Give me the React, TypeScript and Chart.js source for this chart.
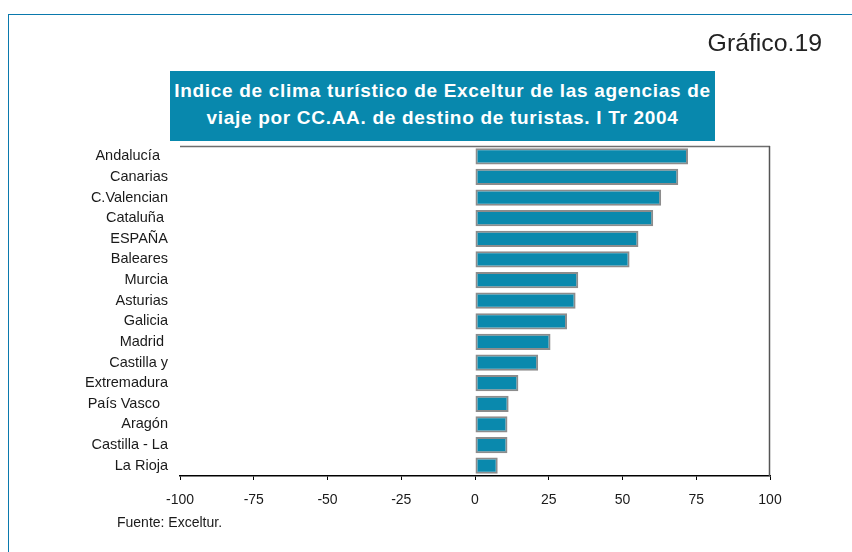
import React, { useEffect, useRef } from "react";
import { Chart, registerables } from "chart.js";

Chart.register(...registerables);

const categories = [
  "Andalucía  ",
  "Canarias",
  "C.Valencian",
  "Cataluña ",
  "ESPAÑA",
  "Baleares",
  "Murcia",
  "Asturias",
  "Galicia",
  "Madrid ",
  "Castilla y",
  "Extremadura",
  "País Vasco  ",
  "Aragón",
  "Castilla - La",
  "La Rioja",
];

const values = [72.2, 68.9, 63.1, 60.4, 55.4, 52.4, 35.0, 34.1, 31.2, 25.6, 21.4, 14.7, 11.4, 11.0, 11.0, 7.7];

const xMin = -100;
const xMax = 100;
const xStep = 25;

const titleLines = [
  "Indice de clima turístico de Exceltur de las agencias de",
  "viaje por CC.AA. de destino de turistas. I Tr 2004",
];
const chartNumber = "Gráfico.19";
const sourceText = "Fuente: Exceltur.";

const FONT = '"Liberation Sans", Arial, Helvetica, sans-serif';

const plotFrame = {
  id: "plotFrame",
  afterDraw(chart: any) {
    const { ctx, chartArea } = chart;
    ctx.save();
    ctx.lineWidth = 1.5;
    ctx.strokeStyle = "#6e6e6e";
    ctx.beginPath();
    ctx.moveTo(chartArea.left, chartArea.top + 0.5);
    ctx.lineTo(chartArea.right, chartArea.top + 0.5);
    ctx.stroke();
    ctx.strokeStyle = "#555555";
    ctx.beginPath();
    ctx.moveTo(chartArea.right - 0.5, chartArea.top);
    ctx.lineTo(chartArea.right - 0.5, chartArea.bottom);
    ctx.stroke();
    ctx.restore();
  },
};

export default function App() {
  const canvasRef = useRef<HTMLCanvasElement | null>(null);

  useEffect(() => {
    if (!canvasRef.current) return;
    const chart = new Chart(canvasRef.current, {
      type: "bar",
      data: {
        labels: categories,
        datasets: [
          {
            data: values,
            backgroundColor: "#0a89ad",
            borderColor: "#8c8c8c",
            borderWidth: 2,
            borderSkipped: false,
            barPercentage: 0.79,
            categoryPercentage: 1,
          },
        ],
      },
      options: {
        indexAxis: "y",
        animation: false,
        responsive: false,
        maintainAspectRatio: false,
        layout: { padding: { top: 146, right: 82, bottom: 0, left: 0 } },
        plugins: {
          legend: { display: false },
          title: { display: false },
          tooltip: { enabled: false },
        },
        scales: {
          x: {
            type: "linear",
            min: xMin,
            max: xMax,
            afterFit: (s: any) => {
              s.height = 76;
            },
            ticks: {
              stepSize: xStep,
              color: "#1a1a1a",
              font: { family: FONT, size: 14 },
              padding: 12,
            },
            grid: {
              drawOnChartArea: false,
              drawTicks: true,
              tickLength: 4,
              color: "#000000",
            },
            border: { display: true, color: "#000000", width: 1.5 },
          },
          y: {
            afterFit: (s: any) => {
              s.width = 180;
            },
            ticks: {
              color: "#1a1a1a",
              font: { family: FONT, size: 14.5 },
              padding: 12,
            },
            grid: { display: false, drawTicks: false },
            border: { display: false },
          },
        },
      },
      plugins: [plotFrame],
    });
    return () => chart.destroy();
  }, []);

  return (
    <div
      style={{
        position: "fixed",
        left: 0,
        top: 0,
        width: 852,
        height: 552,
        background: "#ffffff",
        overflow: "hidden",
        fontFamily: FONT,
      }}
    >
      <div
        style={{
          position: "absolute",
          left: 8,
          top: 14,
          width: 860,
          height: 560,
          borderTop: "1.5px solid #0a79ad",
          borderLeft: "1.5px solid #0a79ad",
        }}
      />
      <canvas
        ref={canvasRef}
        width={852}
        height={552}
        style={{ position: "absolute", left: 0, top: 0, width: 852, height: 552 }}
      />
      <div
        style={{
          position: "absolute",
          right: 30,
          top: 29,
          height: 28,
          lineHeight: "28px",
          fontSize: 24.8,
          color: "#222222",
          whiteSpace: "nowrap",
        }}
      >
        {chartNumber}
      </div>
      <div
        style={{
          position: "absolute",
          left: 170,
          top: 71,
          width: 545,
          height: 70,
          background: "#0888ad",
          color: "#ffffff",
          fontWeight: "bold",
          fontSize: 19,
          letterSpacing: "0.7px",
          lineHeight: "27px",
          textAlign: "center",
          paddingTop: 6,
          boxSizing: "border-box",
          whiteSpace: "nowrap",
        }}
      >
        {titleLines.map((l, i) => (
          <div key={i}>{l}</div>
        ))}
      </div>
      <div
        style={{
          position: "absolute",
          left: 117,
          top: 513,
          fontSize: 14,
          lineHeight: "18px",
          color: "#1a1a1a",
          whiteSpace: "nowrap",
        }}
      >
        {sourceText}
      </div>
    </div>
  );
}
